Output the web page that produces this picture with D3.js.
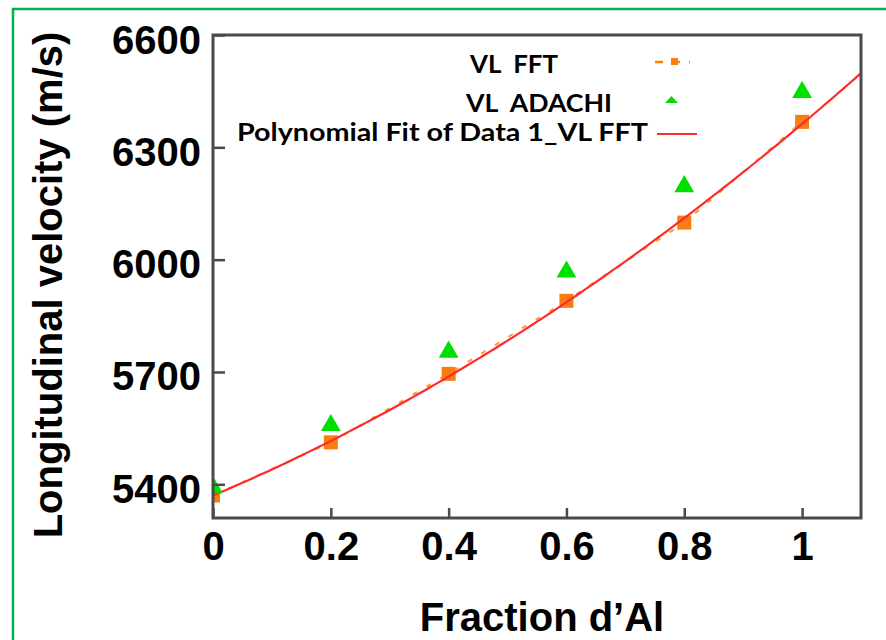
<!DOCTYPE html>
<html><head><meta charset="utf-8">
<script src="https://cdn.jsdelivr.net/npm/d3@7"></script>
<style>
html,body{margin:0;padding:0;background:#fff;}
svg{display:block;}
</style></head>
<body>
<svg id="chart" width="886" height="640"></svg>
<script>
// ---- data ----
const fractions = [0, 0.2, 0.4, 0.6, 0.8, 1.0];
const vlFFT =     [5370, 5512, 5695, 5890, 6099, 6368];
const vlAdachi =  [5394, 5560, 5756, 5970, 6198, 6450];
const xTicks = [0, 0.2, 0.4, 0.6, 0.8, 1];
const yTicks = [5400, 5700, 6000, 6300, 6600];
const legendLabels = ["VL  FFT", "VL  ADACHI", "Polynomial Fit of Data 1_VL FFT"];

const svg = d3.select("#chart");
const m = {left: 213, top: 35, right: 861, bottom: 518};

// green outer frame (extends past the window)
svg.append("rect").attr("x", 13).attr("y", 9).attr("width", 900).attr("height", 700)
  .attr("fill", "none").attr("stroke", "#00b050").attr("stroke-width", 2.5);

const x = d3.scaleLinear().domain([0, 1.1]).range([m.left, m.right]);
const y = d3.scaleLinear().domain([5310, 6600]).range([m.bottom, m.top]);

svg.append("defs").append("clipPath").attr("id", "clip")
  .append("rect").attr("x", m.left).attr("y", m.top)
  .attr("width", m.right - m.left).attr("height", m.bottom - m.top);

// quadratic least-squares fit of the FFT series
function polyfit2(xs, ys) {
  let S = [0,0,0,0,0], T = [0,0,0];
  xs.forEach((xv, i) => {
    for (let k = 0; k < 5; k++) S[k] += Math.pow(xv, k);
    for (let k = 0; k < 3; k++) T[k] += Math.pow(xv, k) * ys[i];
  });
  const A = [[S[0],S[1],S[2],T[0]],[S[1],S[2],S[3],T[1]],[S[2],S[3],S[4],T[2]]];
  for (let i = 0; i < 3; i++) {
    for (let j = i+1; j < 3; j++) {
      const f = A[j][i] / A[i][i];
      for (let k = i; k < 4; k++) A[j][k] -= f * A[i][k];
    }
  }
  const c = [0,0,0];
  for (let i = 2; i >= 0; i--) {
    let s = A[i][3];
    for (let k = i+1; k < 3; k++) s -= A[i][k] * c[k];
    c[i] = s / A[i][i];
  }
  return c;
}
const coef = polyfit2(fractions, vlFFT);
const fitX = d3.range(0, 1.1001, 0.01);
const fitPts = fitX.map(v => [v, coef[0] + coef[1]*v + coef[2]*v*v]);

const plot = svg.append("g").attr("clip-path", "url(#clip)");

// FFT dashed line
const fftPts = fractions.map((f, i) => [f, vlFFT[i]]);
plot.append("path").datum(fftPts)
  .attr("d", d3.line().x(d => x(d[0])).y(d => y(d[1])))
  .attr("fill", "none").attr("stroke", "#ff8000").attr("stroke-width", 2)
  .attr("stroke-dasharray", "5,11").attr("opacity", 0.8);

// FFT squares
plot.selectAll("rect.fft").data(fftPts).enter().append("rect")
  .attr("x", d => x(d[0]) - 7).attr("y", d => y(d[1]) - 7)
  .attr("width", 14).attr("height", 14).attr("fill", "#fa7d12");

// fit line
plot.append("path").datum(fitPts)
  .attr("d", d3.line().x(d => x(d[0])).y(d => y(d[1])))
  .attr("fill", "none").attr("stroke", "#ff2a2a").attr("stroke-width", 2.2);

// ADACHI triangles
const triangle = d3.symbol().type(d3.symbolTriangle).size(170);
plot.selectAll("path.ad").data(fractions.map((f, i) => [f, vlAdachi[i]])).enter().append("path")
  .attr("d", triangle)
  .attr("transform", d => `translate(${x(d[0])},${y(d[1]) + 1})`)
  .attr("fill", "#00e000");

// frame
svg.append("rect").attr("x", m.left).attr("y", m.top)
  .attr("width", m.right - m.left).attr("height", m.bottom - m.top)
  .attr("fill", "none").attr("stroke", "#4a4a4a").attr("stroke-width", 3);

// axes with inward ticks
const xAxis = svg.append("g").attr("transform", `translate(0,${m.bottom})`)
  .call(d3.axisBottom(x).tickValues(xTicks).tickSize(-10).tickPadding(14)
    .tickFormat(d => d3.format("")(d)));
const yAxis = svg.append("g").attr("transform", `translate(${m.left},0)`)
  .call(d3.axisLeft(y).tickValues(yTicks).tickSize(-12).tickPadding(12)
    .tickFormat(d3.format("d")));
[xAxis, yAxis].forEach(g => {
  g.select(".domain").remove();
  g.selectAll(".tick line").attr("stroke", "#4a4a4a").attr("stroke-width", 2.5);
  g.selectAll(".tick text").attr("fill", "#000")
    .style("font-family", "'Liberation Sans', Arial, sans-serif")
    .style("font-weight", "bold").style("font-size", "40px");
});
xAxis.selectAll(".tick text").attr("dy", "0.71em");
yAxis.selectAll(".tick text").attr("dy", "0.45em");

// axis titles
svg.append("text").attr("x", 542).attr("y", 631).attr("text-anchor", "middle")
  .style("font-family", "'Liberation Sans', Arial, sans-serif")
  .style("font-weight", "bold").style("font-size", "40px").attr("fill", "#000")
  .text("Fraction d\u2019Al");
svg.append("text").attr("transform", "translate(62,285) rotate(-90)").attr("text-anchor", "middle")
  .style("font-family", "'Liberation Sans', Arial, sans-serif")
  .style("font-weight", "bold").style("font-size", "40px").attr("fill", "#000")
  .text("Longitudinal velocity (m/s)");

// legend
const legPos = [{x: 470, y: 73, w: 88}, {x: 466, y: 112, w: 146}, {x: 237, y: 141, w: 411}];
legendLabels.forEach((t, i) => {
  svg.append("text").attr("x", legPos[i].x).attr("y", legPos[i].y)
    .attr("textLength", legPos[i].w).attr("lengthAdjust", "spacingAndGlyphs")
    .style("font-family", "Lato, 'Open Sans', sans-serif").style("white-space", "pre")
    .style("font-weight", "bold").style("font-size", "25px").attr("fill", "#000")
    .text(t);
});
const lg = svg.append("g");
lg.append("line").attr("x1", 655).attr("x2", 690).attr("y1", 62).attr("y2", 62)
  .attr("stroke", "#ff8000").attr("stroke-width", 2.5).attr("stroke-dasharray", "8,9");
lg.append("rect").attr("x", 671).attr("y", 58).attr("width", 7).attr("height", 7).attr("fill", "#fa7d12");
lg.append("path").attr("d", "M665,103 L678,103 L671.5,96 Z").attr("fill", "#00e000");
lg.append("line").attr("x1", 657).attr("x2", 697).attr("y1", 134).attr("y2", 134)
  .attr("stroke", "#ff2a2a").attr("stroke-width", 2);
</script>
</body></html>
